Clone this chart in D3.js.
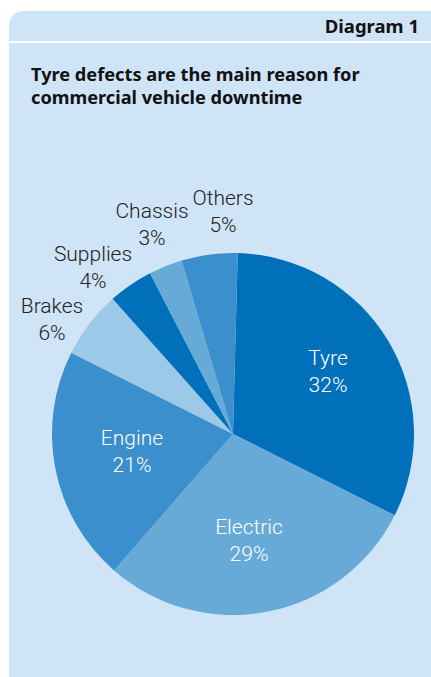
<!DOCTYPE html>
<html><head><meta charset="utf-8">
<script src="https://cdn.jsdelivr.net/npm/d3@7"></script>
<style>html,body{margin:0;padding:0;background:#fff;}svg{display:block;}</style>
</head><body>
<svg id="c" width="431" height="677"></svg>
<script>
const categories = ["Tyre","Electric","Engine","Brakes","Supplies","Chassis","Others"];
const values = [32,29,21,6,4,3,5];
const labels = ["32%","29%","21%","6%","4%","3%","5%"];
const colors = ["#0070BA","#67AAD8","#3A8FCC","#9DC9E9","#0070BA","#67AAD8","#3A8FCC"];
const inside = [true,true,true,false,false,false,false];
const labelPos = [[328,365],[249,534],[132,445],[52,313],[93,261],[152,218],[223,205]];

const svg = d3.select("#c");
const x0=9,y0=11,r=16,W=431,H=677;
svg.append("path").attr("d",`M${x0},${H} L${x0},${y0+r} Q${x0},${y0} ${x0+r},${y0} L${W},${y0} L${W},${H} Z`).attr("fill","#CFE4F7");
svg.append("rect").attr("x",x0).attr("y",41).attr("width",W-x0).attr("height",2).attr("fill","#fff");
svg.append("text").attr("x",419).attr("y",33).attr("text-anchor","end")
  .attr("font-family","'Noto Sans','DejaVu Sans',sans-serif").attr("font-weight","bold").attr("font-size",18.5).attr("fill","#111").text("Diagram 1");
const title = ["Tyre defects are the main reason for","commercial vehicle downtime"];
title.forEach((t,i)=>svg.append("text").attr("x",31).attr("y",81+i*23)
  .attr("font-family","'Noto Sans','DejaVu Sans',sans-serif").attr("font-weight","bold").attr("font-size",18.2).attr("fill","#111").text(t));

const cx=233, cy=434, R=181;
const a0 = 1.5*Math.PI/180;
const pie = d3.pie().sort(null).value(d=>d).startAngle(a0).endAngle(a0+2*Math.PI);
const arc = d3.arc().innerRadius(0).outerRadius(R);
const g = svg.append("g").attr("transform",`translate(${cx},${cy})`);
g.selectAll("path").data(pie(values)).join("path").attr("d",arc).attr("fill",(d,i)=>colors[i]);

const lg = svg.append("g").attr("font-family","Roboto,'DejaVu Sans',sans-serif").attr("font-weight",300).attr("font-size",21).attr("text-anchor","middle");
categories.forEach((c,i)=>{
  const t = lg.append("text").attr("x",labelPos[i][0]).attr("y",labelPos[i][1]).attr("fill",inside[i]?"#fff":"#222");
  t.append("tspan").attr("x",labelPos[i][0]).attr("dy",0).text(c);
  t.append("tspan").attr("x",labelPos[i][0]).attr("dy",27).text(labels[i]);
});
</script>
</body></html>
